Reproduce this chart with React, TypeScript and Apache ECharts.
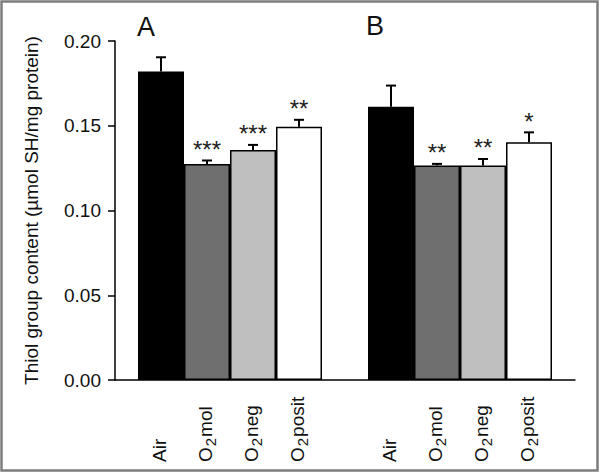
import React, { useEffect, useRef } from "react";
import * as echarts from "echarts";

const categories = ["", "Air", "O2mol", "O2neg", "O2posit", "", "Air", "O2mol", "O2neg", "O2posit", ""];
const means: (number | null)[] = [null, 0.182, 0.1275, 0.1357, 0.1494, null, 0.1612, 0.1265, 0.1265, 0.1402, null];
const errors: (number | null)[] = [null, 0.0084, 0.002, 0.003, 0.0041, null, 0.0125, 0.001, 0.0039, 0.0059, null];
const stars = ["", "", "***", "***", "**", "", "", "**", "**", "*", ""];
const treatmentColors: Record<string, string> = {
  Air: "#000000",
  O2mol: "#6f6f6f",
  O2neg: "#bfbfbf",
  O2posit: "#ffffff",
};
const yTicks = [0, 0.05, 0.1, 0.15, 0.2];
const panelLabels = [
  { text: "A", x: 137, y: 13 },
  { text: "B", x: 366, y: 12 },
];
const yTitle = "Thiol group content (µmol SH/mg protein)";

const FONT = '"Liberation Sans", Arial, Helvetica, sans-serif';

export default function App() {
  const ref = useRef<HTMLDivElement>(null);
  useEffect(() => {
    if (!ref.current) return;
    const chart = echarts.init(ref.current, undefined, { renderer: "svg" });

    const barData = categories.map((c, i) =>
      means[i] == null
        ? "-"
        : {
            value: means[i],
            itemStyle: { color: treatmentColors[c], borderColor: "#000", borderWidth: 1.5 },
          }
    );
    const errItems: { i: number; m: number; e: number; s: string }[] = [];
    categories.forEach((_, i) => {
      if (means[i] != null) errItems.push({ i, m: means[i] as number, e: errors[i] as number, s: stars[i] });
    });

    chart.setOption({
      animation: false,
      grid: { left: 115, right: 25, top: 41, bottom: 96, containLabel: false },
      xAxis: {
        type: "category",
        data: categories,
        boundaryGap: false,
        axisLine: { show: true, lineStyle: { color: "#000", width: 1.5 } },
        axisTick: { show: false },
        splitLine: { show: false },
        axisLabel: {
          interval: 0,
          rotate: 90,
          align: "left",
          verticalAlign: "middle",
          margin: 82,
          color: "#111",
          fontFamily: FONT,
          fontSize: 19,
          formatter: (v: string) =>
            v.startsWith("O2") ? `{b|O}{s|2}{b|${v.slice(2)}}` : v ? `{b|${v}}` : "",
          rich: {
            b: { fontSize: 19, fontFamily: FONT, color: "#111", verticalAlign: "bottom", padding: [0, 0, 3, 0] },
            s: { fontSize: 15, fontFamily: FONT, color: "#111", verticalAlign: "bottom", padding: [0, 1, 0, 1] },
          },
        },
      },
      yAxis: {
        type: "value",
        min: 0,
        max: 0.2,
        interval: 0.05,
        name: yTitle,
        nameLocation: "middle",
        nameGap: 74,
        nameTextStyle: { fontSize: 19, fontFamily: FONT, color: "#111" },
        axisLine: { show: true, lineStyle: { color: "#000", width: 1.5 } },
        axisTick: { show: true, length: 7, lineStyle: { color: "#000", width: 1.5 } },
        splitLine: { show: false },
        axisLabel: {
          margin: 14,
          fontSize: 19,
          fontFamily: FONT,
          color: "#111",
          formatter: (v: number) => (yTicks.some((t) => Math.abs(t - v) < 1e-9) ? v.toFixed(2) : ""),
        },
      },
      series: [
        {
          type: "bar",
          data: barData,
          barWidth: 46,
          z: 2,
        },
        {
          type: "custom",
          z: 3,
          data: errItems.map((d) => [d.i, d.m, d.e]),
          encode: { x: 0, y: 1 },
          renderItem: (params: any, api: any) => {
            const item = errItems[params.dataIndex];
            const top = api.coord([item.i, item.m]);
            const cap = api.coord([item.i, item.m + item.e]);
            const children: any[] = [
              {
                type: "line",
                shape: { x1: top[0], y1: top[1], x2: cap[0], y2: cap[1] },
                style: { stroke: "#000", lineWidth: 2 },
              },
              {
                type: "line",
                shape: { x1: cap[0] - 5, y1: cap[1], x2: cap[0] + 5, y2: cap[1] },
                style: { stroke: "#000", lineWidth: 2 },
              },
            ];
            if (item.s) {
              children.push({
                type: "text",
                x: cap[0],
                y: cap[1] - 11,
                style: {
                  text: item.s,
                  fontSize: 24,
                  fontFamily: FONT,
                  fill: "#222",
                  align: "center",
                  verticalAlign: "middle",
                },
              });
            }
            return { type: "group", children };
          },
        },
      ],
      graphic: [
        ...panelLabels.map((p) => ({
          type: "text",
          left: p.x,
          top: p.y,
          style: { text: p.text, fontSize: 27, fontFamily: FONT, fill: "#111" },
        })),
        {
          type: "rect",
          shape: { x: 1.5, y: 1.5, width: 596, height: 469 },
          style: { fill: "none", stroke: "#7d7d7d", lineWidth: 2.5 },
          silent: true,
          z: 100,
        },
      ],
    });
    return () => chart.dispose();
  }, []);
  return (
    <div
      ref={ref}
      style={{ position: "absolute", left: 0, top: 0, width: 600, height: 476, background: "#fff" }}
    />
  );
}
